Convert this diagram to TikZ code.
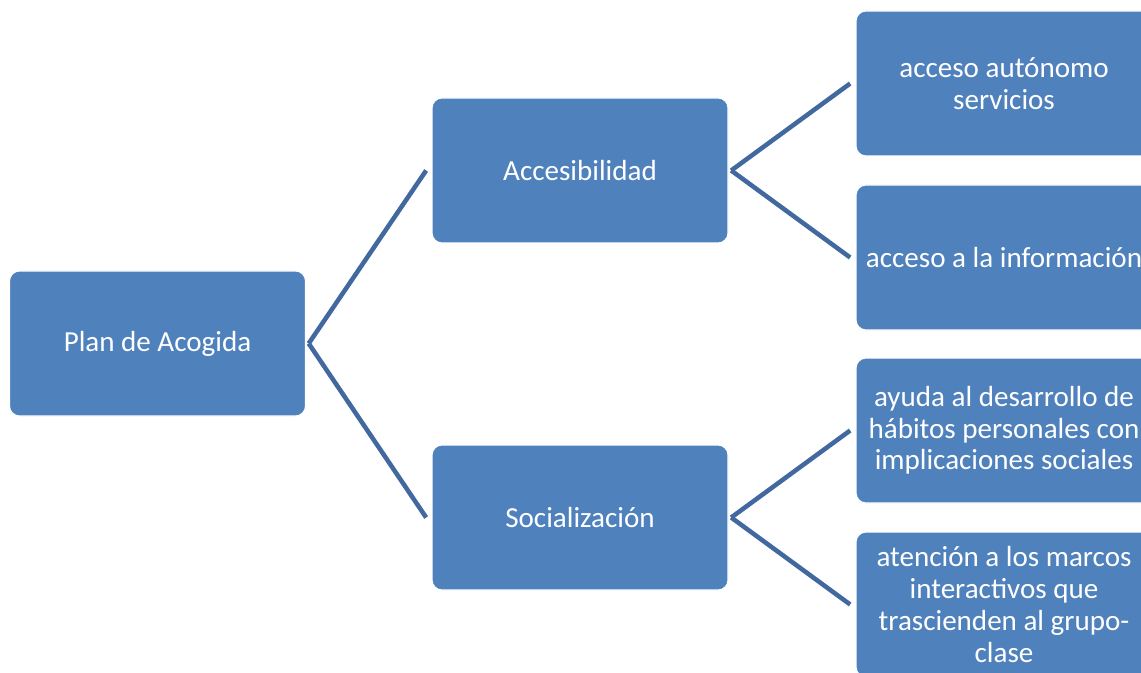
\documentclass[tikz,border=0pt]{standalone}
\usepackage{fontspec}
\setmainfont{Carlito}
\definecolor{boxblue}{HTML}{4F81BD}
\definecolor{linkblue}{HTML}{41689F}
\begin{document}
\begin{tikzpicture}[x=0.75pt,y=-0.75pt,
  box/.style={draw=white, line width=0.8pt, fill=boxblue, rounded corners=7.5pt,
    minimum width=222pt, minimum height=108.75pt, inner sep=0pt, text=white,
    align=center, font=\fontsize{21.8}{23.8}\selectfont},
  link/.style={draw=linkblue, line width=3.4pt}]
\clip (0,0) rectangle (1141,673);
\fill[white] (0,0) rectangle (1141,673);
\node[box] (plan) at (157.5,343.5) {Plan de Acogida};
\node[box] (acc) at (580,170.5) {Accesibilidad};
\node[box] (soc) at (580,517.5) {Socialización};
\node[box] (r1) at (1004,83.5) {acceso autónomo\\servicios};
\node[box] (r2) at (1004,257.5) {acceso a la información};
\node[box] (r3) at (1004,430.5) {ayuda al desarrollo de\\hábitos personales con\\implicaciones sociales};
\node[box] (r4) at (1004,604.5) {atención a los marcos\\interactivos que\\trascienden al grupo-\\clase};
\draw[link] ([xshift=2pt]plan.east) -- ([xshift=-4pt]acc.west);
\draw[link] ([xshift=2pt]plan.east) -- ([xshift=-4pt]soc.west);
\draw[link] ([xshift=2pt]acc.east) -- ([xshift=-4pt]r1.west);
\draw[link] ([xshift=2pt]acc.east) -- ([xshift=-4pt]r2.west);
\draw[link] ([xshift=2pt]soc.east) -- ([xshift=-4pt]r3.west);
\draw[link] ([xshift=2pt]soc.east) -- ([xshift=-4pt]r4.west);
\end{tikzpicture}
\end{document}
